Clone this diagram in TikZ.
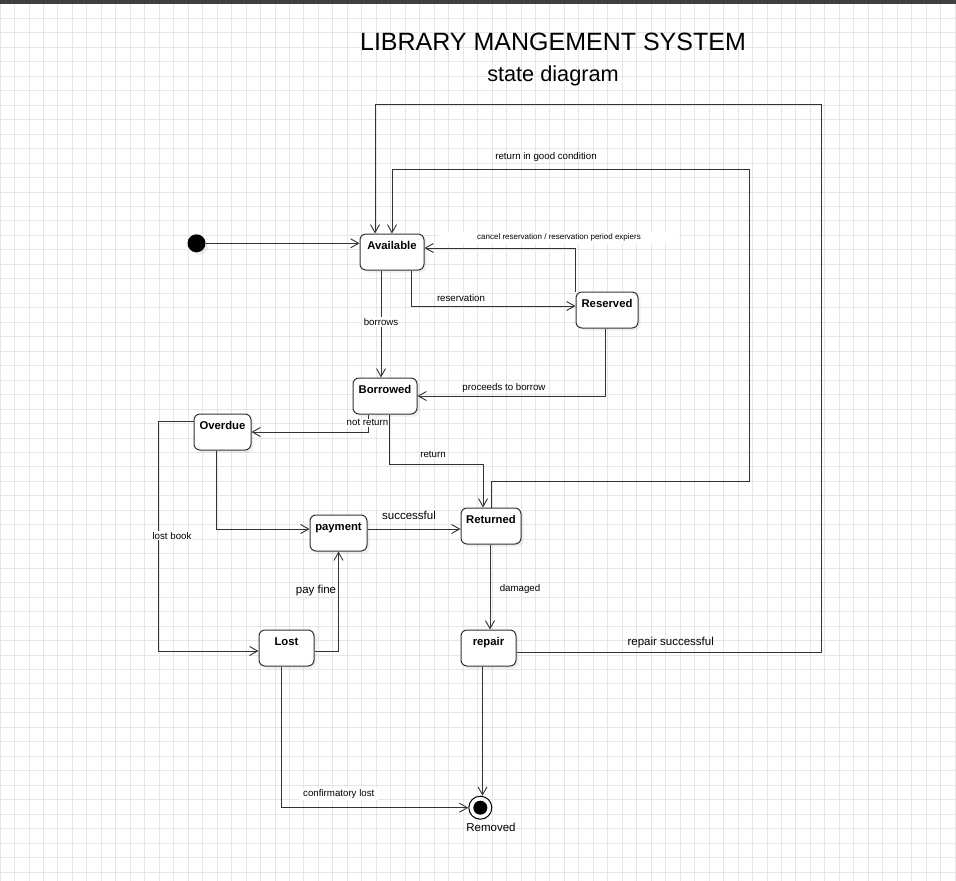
\documentclass[tikz,border=0pt]{standalone}
\usepackage{fontspec}
\setmainfont{Liberation Sans}
\usetikzlibrary{arrows.meta}
\usetikzlibrary{shadows}
\definecolor{gridgray}{HTML}{E6E6E6}
\definecolor{linegray}{HTML}{333333}
\definecolor{bargray}{HTML}{3B4045}
\tikzset{
    mystate/.style = {rectangle, rounded corners=6pt, line width=1pt, draw=linegray, fill=white, align=center, font=\bfseries\fontsize{11.3}{13}\selectfont, text=black, minimum height=36pt, inner ysep=0pt, text height=8.5pt, text depth=13.5pt, drop shadow={shadow xshift=2.5pt, shadow yshift=-2.5pt, opacity=0.12}},
    mystart/.style = {circle, fill=black, minimum size=18pt, inner sep=0pt, drop shadow={shadow xshift=2.5pt, shadow yshift=-2.5pt, opacity=0.12}},
    myend/.style = {circle, draw=black, line width=1pt, fill=white, minimum size=23pt, inner sep=0pt, path picture={\fill[black] (path picture bounding box.center) circle (7pt);}},
    edgen/.style = {line width=0.9pt, draw=linegray, -{Straight Barb[length=8pt,width=9pt]}},
    mylabel/.style = {font=\fontsize{9.7}{11}\selectfont, text=black, inner sep=1pt},
    mylabelw/.style = {mylabel, fill=white},
    mylabelb/.style = {font=\fontsize{11.5}{13}\selectfont, text=black, inner sep=1pt},
    gridl/.style = {draw=gridgray, line width=0.8pt}
}
\begin{document}
\begin{tikzpicture}[x=1pt, y=-1pt]
  \useasboundingbox (0,0) rectangle (956,881);
  % grid background
  \fill[white] (0,0) rectangle (956,881);
  \foreach \i in {0,...,66}
    \draw[gridl] ({\i*14.47},0) -- ({\i*14.47},881);
  \foreach \j in {0,...,60}
    \draw[gridl] (0,{3.8+\j*14.47}) -- (956,{3.8+\j*14.47});
  \fill[bargray] (0,0) rectangle (956,3.5);

  % title
  \node[font=\fontsize{25}{28}\selectfont] (title) at (553,42) {LIBRARY MANGEMENT SYSTEM};
  \node[font=\fontsize{21.7}{24}\selectfont] (subtitle) at (553,76) {state diagram};

  % states
  \node[mystart] (start) at (196.5,243.3) {};
  \node[mystate, minimum width=64pt] (avail) at (392,252) {Available};
  \node[mystate, minimum width=62pt] (reserved) at (607,310) {Reserved};
  \node[mystate, minimum width=64pt] (borrowed) at (385,396) {Borrowed};
  \node[mystate, minimum width=57pt] (overdue) at (222.5,432) {Overdue};
  \node[mystate, minimum width=57pt] (payment) at (338.5,533) {payment};
  \node[mystate, minimum width=60pt] (returned) at (491,526) {Returned};
  \node[mystate, minimum width=55pt] (lost) at (286.5,648) {Lost};
  \node[mystate, minimum width=55pt] (repair) at (488.5,648) {repair};
  \node[myend] (final) at (480.3,807.7) {};
  \node[mylabelb] (removed) at (491,827) {Removed};

  % corners of the long loops
  \coordinate (loopout) at (821,104);
  \coordinate (loopin) at (749,169);
  \coordinate (payout) at ([yshift=4pt]payment.east);
  \coordinate (repairout) at ([xshift=-6pt]repair.south);

  % transitions
  \draw[edgen] (start) -- (start -| avail.west);
  \draw[edgen] ([yshift=-4pt]repair.east) -| (loopout) -| ([xshift=-17pt]avail.north);
  \draw[edgen] (returned.north) -- ++(0,-26) -| (loopin) -| (avail.north);
  \draw[edgen] (reserved.north west) |- ([yshift=4pt]avail.east);
  \draw[edgen] ([xshift=19pt]avail.south) |- ([yshift=4pt]reserved.west);
  \draw[edgen] ([xshift=-11pt]avail.south) -- ([xshift=-4pt]borrowed.north);
  \draw[edgen] ([xshift=-2pt]reserved.south) |- (borrowed.east);
  \draw[edgen] ([xshift=-17pt]borrowed.south) |- (overdue.east);
  \draw[edgen] ([xshift=4pt]borrowed.south) -- ++(0,50) -| ([xshift=-8pt]returned.north);
  \draw[edgen] ([xshift=-6.5pt]overdue.south) |- ([yshift=4pt]payment.west);
  \draw[edgen] (payout) -- (payout -| returned.west);
  \draw[edgen] ([yshift=11pt]overdue.west) -- ++(-35,0) |- ([yshift=-3pt]lost.west);
  \draw[edgen] ([yshift=-3pt]lost.east) -| (payment.south);
  \draw[edgen] ([xshift=-1pt]returned.south) -- ([xshift=1.5pt]repair.north);
  \draw[edgen] (repairout) -- (repairout |- final.north);
  \draw[edgen] ([xshift=-5.5pt]lost.south) |- (final.west);

  % transition labels
  \node[mylabel] (lgood) at (546,157) {return in good condition};
  \node[font=\fontsize{8}{9}\selectfont, fill=white, inner xsep=38pt, inner ysep=2pt] (lcancel) at (559,237.5) {cancel reservation / reservation period expiers};
  \node[mylabel] (lreserv) at (461,298) {reservation};
  \node[mylabelw] (lborrows) at (381,322) {borrows};
  \node[mylabel] (lproceeds) at (504,388) {proceeds to borrow};
  \node[mylabelw] (lnotret) at (367.5,422.7) {not return};
  \node[mylabel] (lreturn) at (433,454) {return};
  \node[mylabelb] (lsuccess) at (409,515) {successful};
  \node[mylabelw] (llostbook) at (172,535.7) {lost book};
  \node[mylabelb] (lpayfine) at (316,591) {pay fine};
  \node[mylabel] (ldamaged) at (520,588.7) {damaged};
  \node[mylabelb] (lrepairok) at (670.7,642.7) {repair successful};
  \node[mylabelw, inner xsep=4pt] (lconfirm) at (338.8,794) {confirmatory lost};
\end{tikzpicture}
\end{document}
